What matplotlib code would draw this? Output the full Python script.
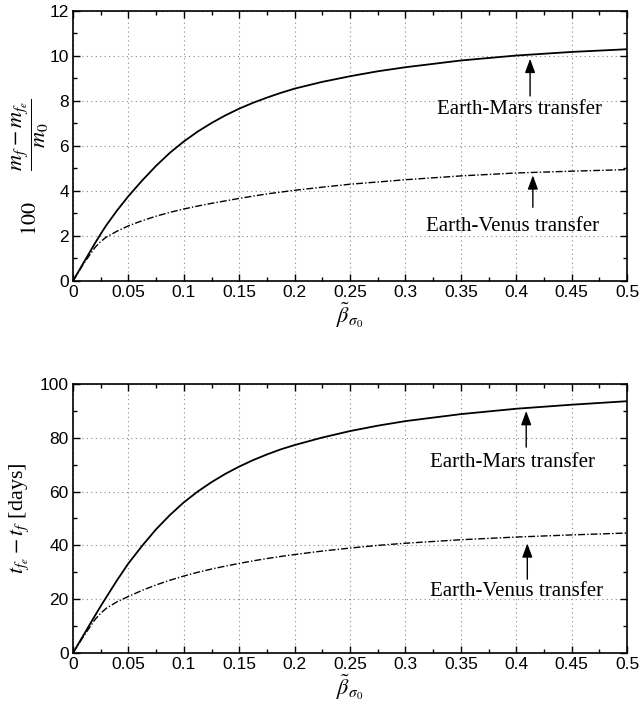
import matplotlib
matplotlib.use('Agg')
import matplotlib.pyplot as plt
from matplotlib.ticker import MultipleLocator

# beta values (x axis)
beta = [0, 0.01, 0.02, 0.025, 0.03, 0.04, 0.05, 0.0625, 0.075, 0.0875, 0.1,
        0.1125, 0.125, 0.1375, 0.15, 0.1625, 0.175, 0.1875, 0.2, 0.225, 0.25,
        0.275, 0.3, 0.35, 0.4, 0.45, 0.5]

# mass saving (percent)
mass_mars = [0, 0.85, 1.69, 2.09, 2.47, 3.15, 3.77, 4.47, 5.12, 5.7, 6.2,
             6.64, 7.02, 7.36, 7.66, 7.92, 8.15, 8.36, 8.55, 8.85, 9.1,
             9.32, 9.5, 9.8, 10.02, 10.18, 10.3]
mass_venus = [0, 0.8, 1.5, 1.75, 1.95, 2.22, 2.45, 2.68, 2.88, 3.05, 3.2,
              3.33, 3.45, 3.56, 3.67, 3.77, 3.87, 3.95, 4.03, 4.17, 4.3,
              4.4, 4.5, 4.67, 4.8, 4.88, 4.95]

# time saving (days)
time_mars = [0, 7, 14, 17.4, 20.7, 27.2, 33.3, 39.9, 46, 51.3, 56,
             60.0, 63.5, 66.6, 69.3, 71.7, 73.8, 75.7, 77.3, 80.1, 82.5,
             84.5, 86.2, 88.8, 90.8, 92.3, 93.6]
time_venus = [0, 6.5, 12.5, 14.8, 16.6, 19.1, 21, 23.3, 25.3, 27.05, 28.6,
              30.0, 31.2, 32.3, 33.3, 34.25, 35.1, 35.9, 36.6, 37.9, 39,
              40.0, 40.8, 42.1, 43.1, 43.9, 44.6]

x_ticks = [0, 0.05, 0.1, 0.15, 0.2, 0.25, 0.3, 0.35, 0.4, 0.45, 0.5]
x_tick_labels = ['0', '0.05', '0.1', '0.15', '0.2', '0.25', '0.3', '0.35', '0.4', '0.45', '0.5']

plt.rcParams['mathtext.fontset'] = 'stix'
serif = 'Liberation Serif'
sans = 'Liberation Sans'

fig = plt.figure(figsize=(6.42, 7.09), dpi=100)
ax1 = fig.add_axes([0.1137, 0.6037, 0.863, 0.3808])
ax2 = fig.add_axes([0.1137, 0.079, 0.863, 0.3794])


def style_axes(ax, ymax, ymajor, yminor):
    ax.set_xlim(0, 0.5)
    ax.set_ylim(0, ymax)
    ax.set_xticks(x_ticks)
    ax.set_xticklabels(x_tick_labels, fontfamily=sans, fontsize=12.5)
    ax.yaxis.set_major_locator(MultipleLocator(ymajor))
    ax.yaxis.set_minor_locator(MultipleLocator(yminor))
    ax.xaxis.set_minor_locator(MultipleLocator(0.025))
    for lab in ax.get_yticklabels():
        lab.set_fontfamily(sans)
        lab.set_fontsize(12.5)
    ax.tick_params(which='both', direction='in', top=True, right=True, width=1)
    ax.tick_params(which='major', length=5, pad=3)
    ax.tick_params(which='minor', length=3)
    ax.grid(True, which='major', linestyle=(0, (1, 3)), color='#888888', linewidth=0.8)
    for sp in ax.spines.values():
        sp.set_linewidth(1.2)


def arrow(ax, x, y_head, y_tail):
    ax.annotate('', xy=(x, y_head), xytext=(x, y_tail),
                arrowprops=dict(arrowstyle='-|>,head_length=0.6,head_width=0.22',
                                color='black', lw=1, mutation_scale=14))


# top panel: mass
ax1.plot(beta, mass_mars, color='black', linewidth=1.3)
ax1.plot(beta, mass_venus, color='black', linewidth=1.0, linestyle=(0, (5, 1.5, 1, 1.5)))
style_axes(ax1, 12, 2, 1)
ax1.set_ylabel(r'$100\qquad\dfrac{m_f - m_{f_e}}{m_0}$', fontsize=16)
ax1.yaxis.set_label_coords(-0.04, 0.42)
ax1.set_xlabel(r'$\tilde{\beta}_{\sigma_0}$', fontsize=16, labelpad=0)
arrow(ax1, 0.4125, 10.0, 8.1)
ax1.text(0.4025, 7.6, 'Earth-Mars transfer', ha='center', va='center', fontfamily=serif, fontsize=15)
arrow(ax1, 0.415, 4.82, 3.15)
ax1.text(0.397, 2.4, 'Earth-Venus transfer', ha='center', va='center', fontfamily=serif, fontsize=15)

# bottom panel: time
ax2.plot(beta, time_mars, color='black', linewidth=1.3)
ax2.plot(beta, time_venus, color='black', linewidth=1.0, linestyle=(0, (5, 1.5, 1, 1.5)))
style_axes(ax2, 100, 20, 10)
ax2.set_ylabel(r'$t_{f_e} - t_f$ [days]', fontfamily=serif, fontsize=16, labelpad=6)
ax2.set_xlabel(r'$\tilde{\beta}_{\sigma_0}$', fontsize=16, labelpad=0)
arrow(ax2, 0.409, 91.0, 75.5)
ax2.text(0.397, 71, 'Earth-Mars transfer', ha='center', va='center', fontfamily=serif, fontsize=15)
arrow(ax2, 0.41, 41.8, 26.4)
ax2.text(0.40, 23, 'Earth-Venus transfer', ha='center', va='center', fontfamily=serif, fontsize=15)

fig.savefig('out.png', dpi=100)
